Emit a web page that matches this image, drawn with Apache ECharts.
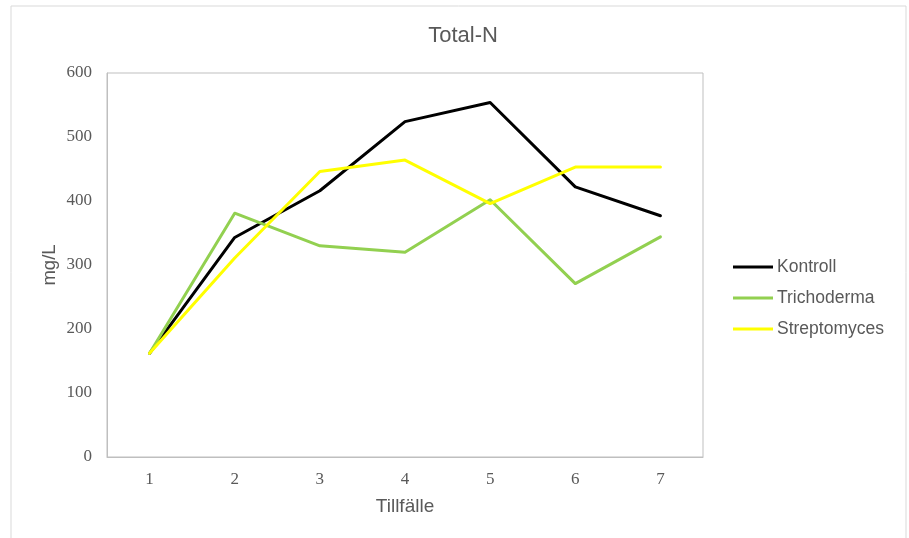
<!DOCTYPE html>
<html>
<head>
<meta charset="utf-8">
<script src="https://cdn.jsdelivr.net/npm/echarts@6/dist/echarts.min.js"></script>
<style>
  html, body { margin: 0; padding: 0; background: #fff; }
  #chart { width: 909px; height: 538px; }
</style>
</head>
<body>
<div id="chart"></div>
<script>
// Sampling occasions (Tillfälle)
const categories = ['1', '2', '3', '4', '5', '6', '7'];

// Total nitrogen, mg/L
const kontroll     = [162, 343, 416, 524, 554, 422, 377];
const trichoderma  = [162, 381, 330, 320, 402, 271, 344];
const streptomyces = [162, 311, 446, 464, 396, 453, 453];

const yTicks = { min: 0, max: 600, interval: 100 };

const seriesDefs = [
  { name: 'Kontroll', data: kontroll, color: '#000000' },
  { name: 'Trichoderma', data: trichoderma, color: '#92d050' },
  { name: 'Streptomyces', data: streptomyces, color: '#ffff00' }
];

const sans = 'Liberation Sans, Arial, sans-serif';
const serif = 'Liberation Serif, Times New Roman, serif';

const chart = echarts.init(document.getElementById('chart'), null, { renderer: 'canvas' });

chart.setOption({
  backgroundColor: '#ffffff',
  animation: false,
  graphic: [{
    type: 'rect',
    shape: { x: 11, y: 6, width: 895, height: 540 },
    style: { fill: 'none', stroke: '#d9d9d9', lineWidth: 1 },
    silent: true
  }],
  title: {
    text: 'Total-N',
    left: 458,
    top: 20,
    textAlign: 'center',
    textStyle: { fontFamily: sans, fontSize: 22, fontWeight: 'normal', color: '#595959' }
  },
  legend: {
    orient: 'vertical',
    left: 728,
    top: 253,
    itemWidth: 40,
    itemHeight: 3,
    itemGap: 13,
    icon: 'rect',
    textStyle: { fontFamily: sans, fontSize: 17.5, color: '#595959', padding: [0, 0, 0, -1] },
    data: seriesDefs.map(s => s.name)
  },
  grid: {
    left: 107, top: 73, width: 596, height: 384,
    show: true, borderColor: '#bfbfbf', borderWidth: 1, containLabel: false
  },
  xAxis: {
    type: 'category',
    data: categories,
    boundaryGap: true,
    name: 'Tillfälle',
    nameLocation: 'middle',
    nameGap: 40,
    nameTextStyle: { fontFamily: sans, fontSize: 19, color: '#595959' },
    axisLine: { lineStyle: { color: '#bfbfbf', width: 1 } },
    axisTick: { show: false },
    axisLabel: { margin: 14, fontFamily: serif, fontSize: 17, color: '#595959' },
    splitLine: { show: false }
  },
  yAxis: {
    type: 'value',
    min: yTicks.min, max: yTicks.max, interval: yTicks.interval,
    name: 'mg/L',
    nameLocation: 'middle',
    nameGap: 48,
    nameMoveOverlap: false,
    nameTextStyle: { fontFamily: sans, fontSize: 18.5, color: '#595959' },
    axisLine: { show: true, lineStyle: { color: '#bfbfbf', width: 1 } },
    axisTick: { show: false },
    axisLabel: { margin: 15, fontFamily: serif, fontSize: 17, color: '#595959' },
    splitLine: { show: false }
  },
  series: seriesDefs.map(s => ({
    name: s.name,
    type: 'line',
    data: s.data,
    symbol: 'none',
    smooth: false,
    lineStyle: { color: s.color, width: 3, join: 'round', cap: 'round' },
    itemStyle: { color: s.color }
  }))
});
</script>
</body>
</html>
